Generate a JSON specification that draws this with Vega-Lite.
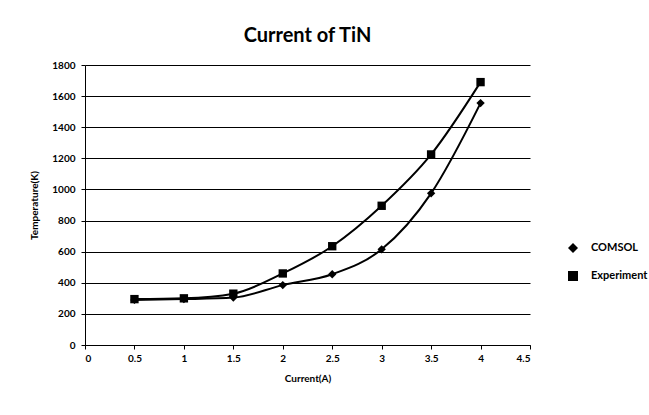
{
  "$schema": "https://vega.github.io/schema/vega-lite/v6.json",
  "autosize": {"type": "none"},
  "padding": {"left": 85, "top": 65, "right": 119, "bottom": 70},
  "width": 445,
  "height": 280,
  "background": "white",
  "title": {"text": "Current of TiN", "font": "Lato", "fontSize": 20, "fontWeight": "bold", "color": "black", "offset": 14, "anchor": "middle"},
  "data": {"values": [
    {"current": 0.5, "temp": 290, "series": "COMSOL"},
    {"current": 1, "temp": 295, "series": "COMSOL"},
    {"current": 1.5, "temp": 305, "series": "COMSOL"},
    {"current": 2, "temp": 385, "series": "COMSOL"},
    {"current": 2.5, "temp": 455, "series": "COMSOL"},
    {"current": 3, "temp": 615, "series": "COMSOL"},
    {"current": 3.5, "temp": 975, "series": "COMSOL"},
    {"current": 4, "temp": 1555, "series": "COMSOL"},
    {"current": 0.5, "temp": 295, "series": "Experiment"},
    {"current": 1, "temp": 300, "series": "Experiment"},
    {"current": 1.5, "temp": 330, "series": "Experiment"},
    {"current": 2, "temp": 460, "series": "Experiment"},
    {"current": 2.5, "temp": 635, "series": "Experiment"},
    {"current": 3, "temp": 895, "series": "Experiment"},
    {"current": 3.5, "temp": 1225, "series": "Experiment"},
    {"current": 4, "temp": 1690, "series": "Experiment"}
  ]},
  "encoding": {
    "x": {"field": "current", "type": "quantitative", "title": "Current(A)",
      "scale": {"domain": [0, 4.5], "nice": false},
      "axis": {"values": [0, 0.5, 1, 1.5, 2, 2.5, 3, 3.5, 4, 4.5], "labelExpr": "'' + datum.value", "grid": false, "domainColor": "black", "tickColor": "black", "tickSize": 4, "labelPadding": 4, "labelFont": "Lato", "labelFontWeight": "bold", "labelFontSize": 10, "labelColor": "black", "titleFont": "Lato", "titleFontWeight": "bold", "titleFontSize": 10, "titleColor": "black", "titlePadding": 10}},
    "y": {"field": "temp", "type": "quantitative", "title": "Temperature(K)",
      "scale": {"domain": [0, 1800], "nice": false},
      "axis": {"values": [0, 200, 400, 600, 800, 1000, 1200, 1400, 1600, 1800], "format": "d", "grid": true, "gridColor": "black", "gridWidth": 1.2, "gridOpacity": 1, "domainColor": "black", "tickColor": "black", "tickSize": 4, "labelPadding": 6, "labelFont": "Lato", "labelFontWeight": "bold", "labelFontSize": 10, "labelColor": "black", "titleFont": "Lato", "titleFontWeight": "bold", "titleFontSize": 10, "titleColor": "black", "titlePadding": 12}}
  },
  "layer": [
    {
      "mark": {"type": "line", "interpolate": "monotone", "color": "black", "strokeWidth": 2},
      "encoding": {"detail": {"field": "series"}}
    },
    {
      "mark": {"type": "point", "filled": true, "size": 70, "color": "black", "opacity": 1},
      "encoding": {
        "shape": {"field": "series", "type": "nominal", "title": null,
          "scale": {"domain": ["COMSOL", "Experiment"], "range": ["diamond", "square"]},
          "legend": {"orient": "none", "legendX": 482, "legendY": 177, "labelFont": "Lato", "labelFontWeight": "bold", "labelFontSize": 11, "labelColor": "black", "symbolSize": 100, "symbolStrokeWidth": 2, "labelOffset": 12, "rowPadding": 10,
            "encode": {
              "symbols": {
                "enter": {"stroke": {"value": "black"}, "strokeWidth": {"value": 2}, "fill": {"value": "black"}},
                "update": {
                  "shape": {"signal": "datum.value === 'COMSOL' ? 'M-2.4,0L2.4,0M0,-0.8L0.7,0L0,0.8L-0.7,0Z' : 'M-2.4,0L2.4,0M-0.6,-0.6L0.6,-0.6L0.6,0.6L-0.6,0.6Z'"},
                  "stroke": {"value": "black"}, "strokeWidth": {"value": 2}, "fill": {"value": "black"}, "strokeOpacity": {"value": 1}}
              }
            }}}
      }
    }
  ],
  "config": {"view": {"stroke": null}}
}
